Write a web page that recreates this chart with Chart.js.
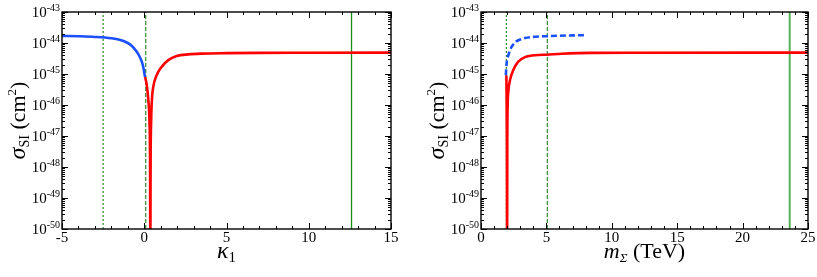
<!DOCTYPE html>
<html>
<head>
<meta charset="utf-8">
<script src="https://cdn.jsdelivr.net/npm/chart.js@4.4.1/dist/chart.umd.min.js"></script>
<style>
html, body { margin: 0; padding: 0; background: #fff; }
#wrap { position: relative; width: 817px; height: 277px; }
.pane { position: absolute; top: 0; height: 277px; }
</style>
</head>
<body>
<div id="wrap">
  <div class="pane" style="left:0;width:410px"><canvas id="leftChart" width="410" height="277"></canvas></div>
  <div class="pane" style="left:410px;width:407px"><canvas id="rightChart" width="407" height="277"></canvas></div>
</div>
<script>
// --- datos ---
// panel izquierdo: sigma_SI frente a kappa_1
const kappaBlue = [-5, -4, -3, -2, -1.5, -1, -0.75, -0.5, -0.3, -0.15, -0.05, 0.0, 0.05];
const sigmaBlueL = [1.70e-44, 1.65e-44, 1.57e-44, 1.42e-44, 1.27e-44, 1.0e-44, 8.0e-45, 5.6e-45, 3.8e-45, 2.5e-45, 1.6e-45, 1.1e-45, 8.0e-46];
const kappaRed = [0.05, 0.15, 0.25, 0.32, 0.355, 0.37, 0.385, 0.42, 0.47, 0.55, 0.76, 1.06, 1.46, 1.97, 2.68, 3.5, 5, 7, 10, 15];
const sigmaRedL = [8.0e-46, 4.5e-46, 1.4e-46, 2.5e-47, 1e-48, 1e-51, 1e-48, 3e-47, 1.6e-46, 3.9e-46, 9.3e-46, 1.7e-45, 2.8e-45, 3.8e-45, 4.3e-45, 4.55e-45, 4.7e-45, 4.8e-45, 4.85e-45, 4.9e-45];
const kappaLines = [-2.5, 0.09, 12.6];

// panel derecho: sigma_SI frente a m_Sigma (TeV)
const massBlue = [1.90, 1.93, 1.96, 2.0, 2.09, 2.2, 2.35, 2.55, 2.73, 3.0, 3.36, 4.0, 5.0, 6.0, 7.0, 8.1];
const sigmaBlueR = [9.0e-46, 1.5e-45, 2.2e-45, 2.9e-45, 4.0e-45, 5.6e-45, 7.6e-45, 9.7e-45, 1.15e-44, 1.3e-44, 1.45e-44, 1.58e-44, 1.66e-44, 1.72e-44, 1.76e-44, 1.8e-44];
const massRed = [1.94, 1.96, 1.98, 1.995, 2.01, 2.04, 2.1, 2.22, 2.47, 2.85, 3.36, 4.38, 5.0, 6.17, 8.46, 12, 25];
const sigmaRedR = [9.0e-46, 1.5e-46, 5e-48, 1e-51, 5e-48, 1e-46, 3.0e-46, 6.4e-46, 1.35e-45, 2.5e-45, 3.5e-45, 4.1e-45, 4.2e-45, 4.5e-45, 4.8e-45, 4.85e-45, 4.9e-45];
const massLines = [1.94, 5.07, 23.6];

// ejes
const yExponents = [-50, -49, -48, -47, -46, -45, -44, -43];
const kappaTicks = [-5, 0, 5, 10, 15];
const massTicks = [0, 5, 10, 15, 20, 25];

const SERIF = "'Liberation Serif', 'DejaVu Serif', serif";
const YMIN = 1e-50, YMAX = 1e-43;

const pts = (xs, ys) => xs.map((x, i) => ({ x: x, y: ys[i] }));
const vline = (x) => [{ x: x, y: YMIN }, { x: x, y: YMAX }];

function curve(data, color, dash) {
    return { data: data, borderColor: color, borderWidth: 2.6, borderDash: dash || [],
             pointRadius: 0, cubicInterpolationMode: 'monotone', fill: false };
}
function guide(x, color, width, dash) {
    return { data: vline(x), borderColor: color, borderWidth: width, borderDash: dash,
             pointRadius: 0, fill: false, tension: 0 };
}

// dibuja texto por piezas (para sub/superíndices) centrado en cx
function drawPieces(ctx, pieces, cx, baseY) {
    let total = 0;
    pieces.forEach(p => { ctx.font = p.font; p.w = ctx.measureText(p.t).width; total += p.w; });
    let x = cx - total / 2;
    pieces.forEach(p => {
        ctx.font = p.font;
        ctx.fillText(p.t, x, baseY + (p.dy || 0));
        x += p.w;
    });
}

function framePlugin(xTicks, xTitlePieces) {
    return {
        id: 'frame',
        afterDatasetsDraw(chart) {
            const ctx = chart.ctx, a = chart.chartArea;
            const xs = chart.scales.x, ys = chart.scales.y;
            ctx.save();
            ctx.strokeStyle = '#000';
            ctx.fillStyle = '#000';

            // marcas menores y mayores del eje x (hacia dentro, abajo y arriba)
            ctx.lineWidth = 1;
            ctx.beginPath();
            for (let v = xs.min; v <= xs.max + 1e-9; v += 1) {
                const px = Math.round(xs.getPixelForValue(v)) + 0.5;
                const len = xTicks.includes(v) ? 6 : 3;
                ctx.moveTo(px, a.bottom); ctx.lineTo(px, a.bottom - len);
                ctx.moveTo(px, a.top); ctx.lineTo(px, a.top + len);
            }
            // eje y logarítmico
            yExponents.forEach((e, i) => {
                const py = Math.round(ys.getPixelForValue(Math.pow(10, e))) + 0.5;
                ctx.moveTo(a.left, py); ctx.lineTo(a.left + 6, py);
                ctx.moveTo(a.right, py); ctx.lineTo(a.right - 6, py);
                if (i < yExponents.length - 1) {
                    for (let m = 2; m <= 9; m++) {
                        const q = Math.round(ys.getPixelForValue(m * Math.pow(10, e))) + 0.5;
                        ctx.moveTo(a.left, q); ctx.lineTo(a.left + 3, q);
                        ctx.moveTo(a.right, q); ctx.lineTo(a.right - 3, q);
                    }
                }
            });
            ctx.stroke();

            // marco
            ctx.lineWidth = 1.4;
            ctx.strokeRect(a.left, a.top, a.right - a.left, a.bottom - a.top);

            // etiquetas del eje y: 10^e
            ctx.textBaseline = 'alphabetic';
            yExponents.forEach(e => {
                const py = ys.getPixelForValue(Math.pow(10, e));
                ctx.font = '15px ' + SERIF;
                const w10 = ctx.measureText('10').width;
                ctx.font = '10px ' + SERIF;
                const ex = String(e);
                const wex = ctx.measureText(ex).width;
                const x0 = a.left - 2 - w10 - wex;
                ctx.font = '15px ' + SERIF;
                ctx.fillText('10', x0, py + 5);
                ctx.font = '10px ' + SERIF;
                ctx.fillText(ex, x0 + w10, py - 1);
            });

            // etiquetas del eje x
            ctx.font = '15px ' + SERIF;
            ctx.textAlign = 'center';
            xTicks.forEach(v => {
                ctx.fillText(String(v), xs.getPixelForValue(v), a.bottom + 13);
            });
            ctx.textAlign = 'left';

            // título eje x
            drawPieces(ctx, xTitlePieces, (a.left + a.right) / 2, a.bottom + 29);

            // título eje y: sigma_SI (cm^2), girado
            ctx.save();
            ctx.translate(a.left - 37, (a.top + a.bottom) / 2);
            ctx.rotate(-Math.PI / 2);
            drawPieces(ctx, [
                { t: 'σ', font: 'italic 24px ' + SERIF },
                { t: 'SI', font: '14px ' + SERIF, dy: 4 },
                { t: ' (cm', font: '22px ' + SERIF },
                { t: '2', font: '13px ' + SERIF, dy: -9 },
                { t: ')', font: '22px ' + SERIF }
            ], 0, 0);
            ctx.restore();

            ctx.restore();
        }
    };
}

function baseOptions(xMin, xMax, pad) {
    return {
        responsive: false,
        animation: false,
        devicePixelRatio: 1,
        layout: { padding: pad },
        plugins: { legend: { display: false }, tooltip: { enabled: false } },
        scales: {
            x: { type: 'linear', min: xMin, max: xMax, display: false },
            y: { type: 'logarithmic', min: YMIN, max: YMAX, display: false }
        }
    };
}

const GREEN = '#2a8a2a';

new Chart(document.getElementById('leftChart'), {
    type: 'line',
    data: {
        datasets: [
            curve(pts(kappaRed, sigmaRedL), '#ff0000'),
            curve(pts(kappaBlue, sigmaBlueL), '#1a50ff'),
            guide(kappaLines[0], GREEN, 1.2, [2, 2]),
            guide(kappaLines[1], GREEN, 1.2, [4, 2]),
            guide(kappaLines[2], '#1a8c1a', 1.3, [])
        ]
    },
    options: baseOptions(-5, 15, { left: 62, right: 19, top: 12, bottom: 48 }),
    plugins: [framePlugin(kappaTicks, [
        { t: 'κ', font: 'italic 24px ' + SERIF },
        { t: '1', font: '15px ' + SERIF, dy: 4 }
    ])]
});

new Chart(document.getElementById('rightChart'), {
    type: 'line',
    data: {
        datasets: [
            curve(pts(massRed, sigmaRedR), '#ff0000'),
            curve(pts(massBlue, sigmaBlueR), '#1a50ff', [6, 3]),
            guide(massLines[0], GREEN, 1.2, [2, 2]),
            guide(massLines[1], GREEN, 1.2, [4, 2]),
            guide(massLines[2], '#55b055', 2, [])
        ]
    },
    options: baseOptions(0, 25, { left: 71, right: 9, top: 12, bottom: 48 }),
    plugins: [framePlugin(massTicks, [
        { t: 'm', font: 'italic 22px ' + SERIF },
        { t: 'Σ', font: 'italic 13px ' + SERIF, dy: 4 },
        { t: ' (TeV)', font: '22px ' + SERIF }
    ])]
});
</script>
</body>
</html>
